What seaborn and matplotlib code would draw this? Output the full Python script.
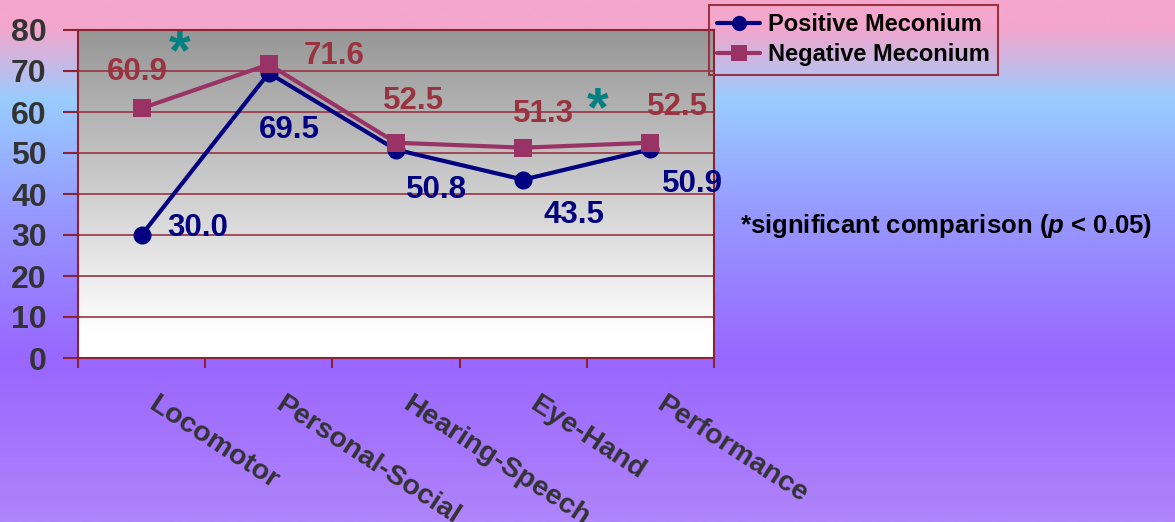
import numpy as np
import pandas as pd
import matplotlib
matplotlib.use("Agg")
import matplotlib.pyplot as plt
from matplotlib.lines import Line2D
from matplotlib.colors import LinearSegmentedColormap
from matplotlib.transforms import ScaledTranslation
import seaborn as sns

# ---------------- data ----------------
categories = ["Locomotor", "Personal-Social", "Hearing-Speech", "Eye-Hand", "Performance"]
positive = [30.0, 69.5, 50.8, 43.5, 50.9]
negative = [60.9, 71.6, 52.5, 51.3, 52.5]
series_names = ["Positive Meconium", "Negative Meconium"]
yticks = [0, 10, 20, 30, 40, 50, 60, 70, 80]
significant = [0, 3]          # category indices flagged with '*'
note = r"*significant comparison ($p$ < 0.05)"

# label offsets in pixels (style only)
pos_off = [(56, -1), (21, -65), (41, -48), (51, -43), (42, -43)]
neg_off = [(-4, 28), (65, 0), (18, 34), (20, 26), (27, 28)]
star_off = [(38, 0.0), (74, 0.0)]

df = pd.DataFrame({
    "idx": list(range(len(categories))) * 2,
    "value": positive + negative,
    "series": [series_names[0]] * len(categories) + [series_names[1]] * len(categories),
})

# ---------------- style ----------------
sns.set_style("ticks")
plt.rcParams["font.family"] = ["Liberation Sans", "DejaVu Sans"]
plt.rcParams["mathtext.fontset"] = "custom"
plt.rcParams["mathtext.it"] = "Liberation Sans:italic:bold"
plt.rcParams["mathtext.rm"] = "Liberation Sans:bold"

W, H = 1175, 522
fig = plt.figure(figsize=(W / 100, H / 100), dpi=100)

# figure background gradient
bg = fig.add_axes([0, 0, 1, 1], zorder=-10)
bg_cmap = LinearSegmentedColormap.from_list("bg", [
    (0.00, (244/255, 166/255, 204/255)),
    (0.05, (244/255, 166/255, 204/255)),
    (0.19, (153/255, 204/255, 255/255)),
    (0.40, (150/255, 155/255, 255/255)),
    (0.69, (153/255, 102/255, 255/255)),
    (1.00, (176/255, 132/255, 250/255)),
])
bg.imshow(np.linspace(0, 1, 256).reshape(-1, 1), cmap=bg_cmap, aspect="auto",
          extent=[0, 1, 0, 1], origin="upper")
bg.set_xlim(0, 1); bg.set_ylim(0, 1)
bg.axis("off")

ax = fig.add_axes([78 / W, 1 - 358 / H, (714 - 78) / W, (358 - 30) / H], zorder=1)
ax.patch.set_visible(False)

# plot-area gradient: gray top -> white bottom
pa_cmap = LinearSegmentedColormap.from_list("pa", [
    (0.0, (0.59, 0.59, 0.59)),
    (0.92, (1, 1, 1)),
    (1.0, (1, 1, 1)),
])
ax.imshow(np.linspace(0, 1, 256).reshape(-1, 1), cmap=pa_cmap, aspect="auto",
          extent=[0, 1, 0, 1], origin="upper", transform=ax.transAxes, zorder=0)

pos_color = "#000080"
neg_color = "#993366"
palette = {series_names[0]: pos_color, series_names[1]: neg_color}
markers = {series_names[0]: "o", series_names[1]: "s"}

sns.lineplot(data=df, x="idx", y="value", hue="series", style="series",
             hue_order=series_names, style_order=series_names,
             palette=palette, markers=markers, dashes=False,
             linewidth=3, markersize=13, markeredgewidth=0,
             legend=False, ax=ax, zorder=3)

ax.set_xlim(-0.5, len(categories) - 0.5)
ax.set_ylim(0, 80)
ax.set_xlabel("")
ax.set_ylabel("")

# spines / grid
axis_red = "#8B2332"
for s in ax.spines.values():
    s.set_visible(True)
    s.set_color(axis_red)
    s.set_linewidth(1.5)
ax.set_axisbelow(True)
ax.yaxis.grid(True, color="#993344", linewidth=1.2)
ax.xaxis.grid(False)

# y ticks
ax.set_yticks(yticks)
ax.set_yticklabels([str(v) for v in yticks], fontsize=23, fontweight="bold", color="#333333")
ax.tick_params(axis="y", length=11, width=1.5, color=axis_red, pad=11.5, direction="out")

# x ticks: labels at categories, tick marks at boundaries
ax.set_xticks(range(len(categories)))
ax.set_xticklabels(categories, fontsize=20.5, fontweight="bold", color="#333333",
                   rotation=-33, ha="left", va="top", rotation_mode="anchor")
ax.tick_params(axis="x", which="major", length=0, pad=24)
ax.set_xticks(np.arange(-0.5, len(categories), 1.0), minor=True)
ax.tick_params(axis="x", which="minor", length=7, width=1.5, color=axis_red, direction="out")
for lab in ax.get_xticklabels():
    lab.set_transform(lab.get_transform() + ScaledTranslation(16 / 100, 0, fig.dpi_scale_trans))

# data labels
for i, (v, off) in enumerate(zip(positive, pos_off)):
    ax.annotate(f"{v:.1f}", (i, v), xytext=off, textcoords="offset pixels",
                ha="center", va="baseline", fontsize=22.5, fontweight="bold",
                color=pos_color, zorder=5)
for i, (v, off) in enumerate(zip(negative, neg_off)):
    ax.annotate(f"{v:.1f}", (i, v), xytext=off, textcoords="offset pixels",
                ha="center", va="baseline", fontsize=22.5, fontweight="bold",
                color="#993340", zorder=5)

# significance asterisks
star_y = [74.1, 60.2]
for k, (i, off) in enumerate(zip(significant, star_off)):
    ax.annotate("*", (i, star_y[k]), xytext=off, textcoords="offset pixels",
                ha="center", va="center", fontsize=40, fontweight="bold",
                color="#008080", zorder=5)

# legend
handles = [
    Line2D([], [], color=pos_color, marker="o", lw=3, markersize=11, markeredgewidth=0),
    Line2D([], [], color=neg_color, marker="s", lw=3, markersize=11, markeredgewidth=0),
]
leg = fig.legend(handles, series_names, loc="upper left",
                 bbox_to_anchor=(709 / W, 1 - 5 / H), bbox_transform=fig.transFigure,
                 frameon=True, fancybox=False, edgecolor="#993344", facecolor="none",
                 prop={"size": 17, "weight": "bold"}, handlelength=1.8,
                 borderaxespad=0, borderpad=0.35, labelspacing=0.3, handletextpad=0.35)
leg.get_frame().set_linewidth(1.5)
leg.get_frame().set_alpha(None)
for t in leg.get_texts():
    t.set_color("black")

fig.text(740 / W, 1 - 226 / H, note, ha="left", va="center",
         fontsize=18.5, fontweight="bold", color="black")

fig.savefig("out.png", dpi=100)
